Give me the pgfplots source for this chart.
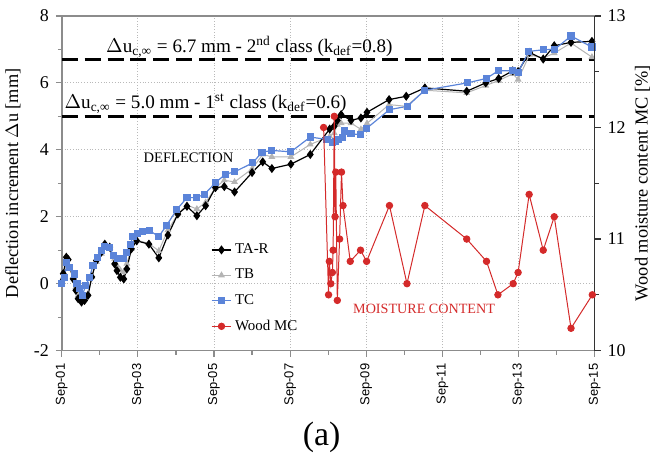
\documentclass[border=0pt]{standalone}
\usepackage{fontspec}
\setmainfont{Liberation Serif}
\newfontfamily\arialf{Liberation Sans}
\usepackage{pgfplots}
\pgfplotsset{compat=1.18}
\usetikzlibrary{calc}

\definecolor{tcblue}{HTML}{5B84D9}
\definecolor{tbgray}{HTML}{B4B4B4}
\definecolor{mcred}{HTML}{D42A2A}
\definecolor{spine}{HTML}{8C8C8C}

\pgfplotsset{
  common/.style={
    width=267.5pt, height=168pt, scale only axis,
    xmin=0, xmax=14,
    tick align=outside,
    /pgf/number format/assume math mode=true,
    tick label style={font=\rmfamily\fontsize{9}{10}\selectfont},
    major tick length=3pt, minor tick length=2pt,
  },
  legend image code/.code={
    \draw[mark repeat=2,mark phase=2] plot coordinates {(0pt,0pt)(5pt,0pt)(10pt,0pt)};
  },
}

\begin{document}
\begin{tikzpicture}
\begin{axis}[common,
  ymin=-2, ymax=8,
  ytick={-2,0,2,4,6,8}, minor y tick num=1,
  xtick={0,2,4,6,8,10,12,14},
  xticklabels={Sep-01,Sep-03,Sep-05,Sep-07,Sep-09,Sep-11,Sep-13,Sep-15},
  minor x tick num=1,
  xtick pos=bottom, ytick pos=left,
  x tick label style={rotate=90, anchor=east, font=\arialf\fontsize{6.5}{7}\selectfont},
  grid=major,
  major grid style={densely dotted, gray!55, line width=0.4pt},
  axis line style={draw=spine, line width=0.8pt},
  every tick/.style={draw=spine, line width=0.6pt},
  legend style={at={(0.268,0.345)}, anchor=north west, draw=none, fill=none,
    font=\rmfamily\fontsize{7.5}{9}\selectfont, row sep=2.3pt,
    nodes={inner xsep=1.5pt},
    /tikz/every even column/.append style={column sep=0pt}},
  legend cell align=left,
]
\coordinate (bl) at (rel axis cs:0,0);

% limit lines
\addplot[black, line width=1.5pt, dash pattern=on 8pt off 3.5pt, forget plot]
  coordinates {(0,6.7) (14,6.7)};
\addplot[black, line width=1.5pt, dash pattern=on 8pt off 3.5pt, forget plot]
  coordinates {(0,5.0) (14,5.0)};

% TB
\addplot[tbgray, line width=0.5pt, mark=triangle*, mark size=1.5pt, forget plot]
  coordinates {(0,0.0)(0.04,0.2)(0.12,0.6)(0.17,0.5)(0.30,0.2)(0.37,-0.1)(0.43,-0.35)
  (0.52,-0.45)(0.60,-0.4)(0.69,-0.3)(0.79,0.2)(0.91,0.65)(1.04,0.9)(1.13,1.12)(1.26,1.08)
  (1.39,0.75)(1.45,0.55)(1.54,0.4)(1.63,0.35)(1.71,0.6)(1.83,1.05)(1.97,1.3)(2.29,1.2)
  (2.55,0.98)(2.79,1.6)(3.05,2.08)(3.29,2.35)(3.55,2.23)(3.78,2.43)(4.04,2.87)(4.27,3.09)
  (4.54,3.04)(5.00,3.43)(5.28,3.86)(5.52,3.79)(6.02,3.79)(6.53,4.16)(7.04,4.40)(7.16,4.50)
  (7.24,4.75)(7.34,4.80)(7.60,4.80)(7.86,4.61)(8.02,4.79)(8.60,5.35)(9.05,5.30)(9.54,5.78)
  (10.64,5.70)(11.14,5.92)(11.48,6.07)(11.85,6.27)(11.99,6.10)(12.29,6.84)(12.65,6.74)
  (12.94,6.89)(13.38,7.19)(13.93,6.77)};

% TA-R
\addplot[black, line width=0.6pt, mark=diamond*, mark size=1.8pt, forget plot]
  coordinates {(0,0.05)(0.04,0.3)(0.12,0.79)(0.17,0.72)(0.30,0.14)(0.37,-0.2)(0.43,-0.45)
  (0.52,-0.55)(0.60,-0.5)(0.69,-0.35)(0.79,0.2)(0.91,0.69)(1.04,0.94)(1.13,1.18)(1.26,1.09)
  (1.39,0.59)(1.45,0.39)(1.54,0.19)(1.63,0.14)(1.71,0.44)(1.83,1.04)(1.97,1.28)(2.29,1.18)
  (2.55,0.77)(2.79,1.45)(3.05,2.08)(3.29,2.31)(3.55,2.03)(3.78,2.33)(4.04,2.87)(4.27,2.90)
  (4.54,2.74)(5.00,3.32)(5.28,3.64)(5.52,3.44)(6.02,3.57)(6.53,3.86)(7.04,4.62)(7.16,4.71)
  (7.24,4.88)(7.34,5.05)(7.60,4.88)(7.86,4.95)(8.02,5.12)(8.60,5.50)(9.05,5.60)(9.54,5.85)
  (10.64,5.75)(11.14,6.00)(11.48,6.13)(11.85,6.36)(11.99,6.34)(12.29,6.91)(12.65,6.71)
  (12.94,7.11)(13.38,7.21)(13.93,7.24)};

% TC
\addplot[tcblue, line width=0.6pt, mark=square*, mark size=1.5pt, forget plot]
  coordinates {(0,0.0)(0.08,0.19)(0.12,0.64)(0.21,0.49)(0.34,0.29)(0.40,0.0)(0.47,-0.15)
  (0.54,-0.35)(0.63,-0.06)(0.73,0.19)(0.82,0.54)(0.93,0.79)(1.04,0.98)(1.13,1.10)(1.26,1.09)
  (1.35,0.84)(1.48,0.74)(1.61,0.74)(1.70,0.94)(1.80,1.18)(1.87,1.40)(2.00,1.50)(2.13,1.55)
  (2.31,1.58)(2.55,1.41)(2.76,1.75)(3.02,2.21)(3.29,2.57)(3.53,2.57)(3.75,2.67)(4.04,3.02)
  (4.30,3.27)(4.54,3.34)(5.02,3.61)(5.26,3.93)(5.52,3.98)(6.02,3.94)(6.53,4.38)(6.97,4.31)
  (7.11,4.21)(7.20,4.26)(7.27,4.31)(7.38,4.36)(7.42,4.56)(7.60,4.48)(7.84,4.45)(8.01,4.64)
  (8.61,5.20)(9.08,5.30)(9.54,5.78)(10.66,6.00)(11.15,6.13)(11.47,6.36)(11.85,6.36)
  (11.99,6.31)(12.27,6.94)(12.66,6.99)(12.95,7.00)(13.38,7.40)(13.93,7.07)};

\addlegendimage{black, line width=0.6pt, mark=diamond*, mark size=1.8pt}
\addlegendentry{TA-R}
\addlegendimage{tbgray, line width=0.5pt, mark=triangle*, mark size=1.5pt}
\addlegendentry{TB}
\addlegendimage{tcblue, line width=0.6pt, mark=square*, mark size=1.5pt}
\addlegendentry{TC}
\addlegendimage{mcred, line width=0.5pt, mark=*, mark size=1.6pt}
\addlegendentry{Wood MC}

\node[font=\rmfamily\fontsize{9.6}{12}\selectfont] at (axis cs:4.93,7.08)
  {$\Delta$u\textsubscript{c,∞} = 6.7 mm - 2\textsuperscript{nd} class (k\textsubscript{def}=0.8)};
\node[font=\rmfamily\fontsize{9.6}{12}\selectfont] at (axis cs:3.78,5.38)
  {$\Delta$u\textsubscript{c,∞} = 5.0 mm - 1\textsuperscript{st} class (k\textsubscript{def}=0.6)};
\node[font=\rmfamily\fontsize{7.3}{9}\selectfont] at (axis cs:3.33,3.77) {DEFLECTION};
\node[font=\rmfamily\fontsize{7.1}{8}\selectfont, text=mcred] at (axis cs:9.52,-0.75) {MOISTURE CONTENT};
\end{axis}

\begin{axis}[common,
  ymin=10, ymax=13,
  ytick={10,11,12,13}, minor y tick num=1,
  axis x line=none, axis y line*=right,
  axis line style={draw=black!80, line width=0.8pt},
  every tick/.style={draw=black!80, line width=0.6pt},
]
\addplot[mcred, line width=0.5pt, mark=*, mark size=1.6pt]
  coordinates {(6.88,12.0)(7.01,10.5)(7.03,10.8)(7.07,10.6)(7.11,10.7)(7.13,10.9)(7.16,12.1)
  (7.18,11.2)(7.20,11.6)(7.24,10.45)(7.30,11.0)(7.35,11.6)(7.39,11.3)(7.58,10.8)(7.85,10.9)
  (8.01,10.8)(8.61,11.3)(9.07,10.6)(9.54,11.3)(10.64,11.0)(11.16,10.8)(11.46,10.5)(11.86,10.6)
  (11.99,10.7)(12.28,11.4)(12.65,10.9)(12.94,11.2)(13.38,10.2)(13.94,10.5)};
\end{axis}

\node[rotate=90, anchor=south, inner sep=1pt, font=\rmfamily\fontsize{9.2}{11}\selectfont]
  at ($(bl)+(-19.5pt,84pt)$) {Deflection increment $\Delta$u [mm]};
\node[rotate=90, anchor=north, inner sep=1pt, font=\rmfamily\fontsize{9.2}{11}\selectfont]
  at ($(bl)+(286.5pt,84pt)$) {Wood moisture content MC [\%]};
\node[font=\rmfamily\fontsize{17}{20}\selectfont, anchor=base, inner sep=0pt] at ($(bl)+(130.5pt,-47.5pt)$) {(a)};
\path (bl) ++(-31pt,-51.5pt) rectangle ++(326pt,227.5pt);
\end{tikzpicture}
\end{document}
